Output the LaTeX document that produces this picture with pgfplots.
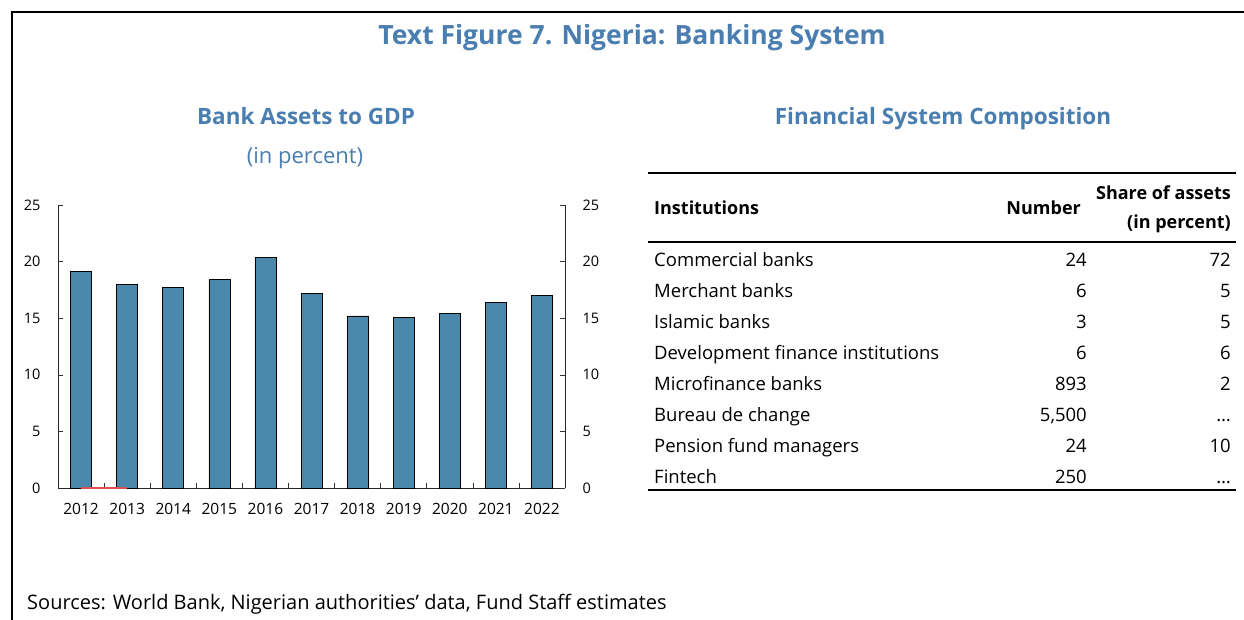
\documentclass[border=0pt]{standalone}
\usepackage{pgfplots}
\pgfplotsset{compat=1.18}
\usepackage{fontspec}
\setmainfont{Open Sans}
\definecolor{titleblue}{HTML}{4A7EB0}
\definecolor{barblue}{HTML}{4A89AC}
\definecolor{redline}{HTML}{E05050}
\newcommand{\fs}[1]{\fontsize{#1}{#1}\selectfont}
\begin{document}
\begin{tikzpicture}[x=1pt,y=-1pt]
\path[use as bounding box] (0,0) rectangle (1244,620);
% frame
\draw[line width=2.5pt] (12,620) -- (12,12) -- (1244,12);
% titles
\node[anchor=base, text=titleblue, font=\fs{26.5}\bfseries] at (632,45) {Text Figure 7. Nigeria: Banking System};
\node[anchor=base, text=titleblue, font=\fs{22.5}\bfseries] at (306,125) {Bank Assets to GDP};
\node[anchor=base, text=titleblue, font=\fs{22}] at (305,164) {(in percent)};
\node[anchor=base, text=titleblue, font=\fs{22.5}\bfseries] at (943,125) {Financial System Composition};
% chart
\begin{axis}[
  at={(58pt,-488pt)}, anchor=south west,
  scale only axis, width=507pt, height=283pt,
  xmin=-0.5, xmax=10.5, ymin=0, ymax=25,
  axis x line*=bottom, axis y line*=left,
  axis line style={black!85, line width=0.7pt},
  tick align=inside,
  xtick={0,...,10},
  xticklabels={2012,2013,2014,2015,2016,2017,2018,2019,2020,2021,2022},
  major x tick style={draw=none},
  minor xtick={0.5,1.5,...,9.5},
  minor tick length=5pt, major tick length=5pt,
  tick style={black!80, line width=0.6pt},
  ytick={0,5,...,25},
  /pgf/number format/assume math mode=true,
  ticklabel style={font=\fs{14.5}},
  xticklabel style={font=\fs{15.5}, yshift=-12pt},
  yticklabel style={xshift=-14pt},
  clip=false,
]
\addplot[ybar, bar width=21pt, fill=barblue, draw=black, line width=0.6pt]
  coordinates {(0,19.1) (1,18.0) (2,17.7) (3,18.4) (4,20.4) (5,17.2) (6,15.2) (7,15.1) (8,15.4) (9,16.4) (10,17.0)};
\addplot[redline, line width=1.2pt, sharp plot, mark=none] coordinates {(0,0) (1,0)};
\end{axis}
\begin{axis}[
  at={(58pt,-488pt)}, anchor=south west,
  scale only axis, width=507pt, height=283pt,
  xmin=-0.5, xmax=10.5, ymin=0, ymax=25,
  axis x line=none, axis y line*=right,
  axis line style={black!85, line width=0.7pt},
  tick align=inside, major tick length=5pt,
  tick style={black!80, line width=0.6pt},
  ytick={0,5,...,25},
  /pgf/number format/assume math mode=true,
  ticklabel style={font=\fs{14.5}},
  yticklabel style={xshift=14pt},
]
\addplot[draw=none] coordinates {(0,0)};
\end{axis}
% table
\draw[line width=2pt] (648,173) -- (1236,173);
\draw[line width=2pt] (648,242) -- (1236,242);
\draw[line width=2pt] (648,490) -- (1236,490);
\node[anchor=base west, font=\fs{18}\bfseries, inner sep=0] at (654,215) {Institutions};
\node[anchor=base east, font=\fs{18}\bfseries, inner sep=0] at (1081,215) {Number};
\node[anchor=base east, font=\fs{18}\bfseries, inner sep=0] at (1231,200) {Share of assets};
\node[anchor=base east, font=\fs{18}\bfseries, inner sep=0] at (1231,229) {(in percent)};
\foreach \name/\num/\share [count=\i from 0] in {
  Commercial banks/24/72,
  Merchant banks/6/5,
  Islamic banks/3/5,
  Development finance institutions/6/6,
  Microfinance banks/893/2,
  Bureau de change/{5,500}/\dots,
  Pension fund managers/24/10,
  Fintech/250/\dots}{
  \node[anchor=base west, font=\fs{18.5}, inner sep=0] at (654,266+31*\i) {\name};
  \node[anchor=base east, font=\fs{18.5}, inner sep=0] at (1087,266+31*\i) {\num};
  \node[anchor=base east, font=\fs{18.5}, inner sep=0] at (1231,266+31*\i) {\share};
}
% sources
\node[anchor=base west, font=\fs{20}, inner sep=0] at (27,609) {Sources: World Bank, Nigerian authorities’ data, Fund Staff estimates};
\end{tikzpicture}
\end{document}
